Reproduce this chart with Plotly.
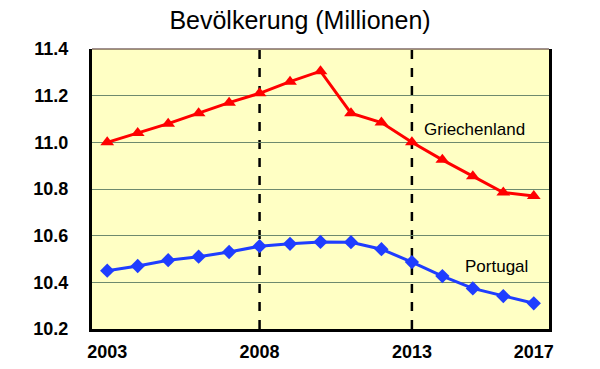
import plotly.graph_objects as go

years = list(range(2003, 2018))
griechenland = [11.00, 11.04, 11.08, 11.125, 11.17, 11.21, 11.26, 11.305, 11.125, 11.085, 11.00, 10.925, 10.855, 10.785, 10.77]
portugal = [10.45, 10.47, 10.495, 10.51, 10.53, 10.555, 10.565, 10.573, 10.572, 10.542, 10.487, 10.427, 10.374, 10.341, 10.31]
x_ticks = [2003, 2008, 2013, 2017]
y_ticks = [10.2, 10.4, 10.6, 10.8, 11.0, 11.2, 11.4]
vlines = [2008, 2013]

fig = go.Figure()
fig.add_trace(go.Scatter(x=years, y=griechenland, mode="lines+markers",
                         line=dict(color="#FF0000", width=3),
                         marker=dict(symbol="triangle-up", size=12, color="#FF0000"),
                         name="Griechenland", cliponaxis=False))
fig.add_trace(go.Scatter(x=years, y=portugal, mode="lines+markers",
                         line=dict(color="#1F3DFF", width=3),
                         marker=dict(symbol="diamond", size=11, color="#1F3DFF"),
                         name="Portugal", cliponaxis=False))

for v in vlines:
    fig.add_shape(type="line", x0=v, x1=v, y0=10.2, y1=11.4, xref="x", yref="y",
                  line=dict(color="black", width=2.5, dash="dash"), layer="below")

# thin top border
fig.add_shape(type="line", x0=0, x1=1, y0=1, y1=1, xref="paper", yref="paper",
              line=dict(color="#402020", width=1))

fig.add_annotation(x=2015.07, y=11.057, text="Griechenland", showarrow=False,
                   font=dict(size=17, color="black", family="Liberation Sans, Arial"))
fig.add_annotation(x=2015.79, y=10.466, text="Portugal", showarrow=False,
                   font=dict(size=17, color="black", family="Liberation Sans, Arial"))

fig.update_layout(
    width=600, height=369,
    margin=dict(l=92, r=51, t=49, b=40, autoexpand=False),
    paper_bgcolor="white",
    plot_bgcolor="#FFFFC4",
    showlegend=False,
    title=dict(text="Bevölkerung (Millionen)", x=0.5, xanchor="center", y=1 - 20 / 369, yanchor="middle",
               automargin=False,
               font=dict(size=25, color="black", family="Liberation Sans, Arial")),
    font=dict(family="Liberation Sans, Arial", color="black"),
    xaxis=dict(range=[2002.5, 2017.5], tickvals=x_ticks, ticktext=[f"<b>{t}</b>" for t in x_ticks],
               showgrid=False, zeroline=False, showline=True, linecolor="black", linewidth=3,
               mirror=False, ticks="", tickfont=dict(size=18), ticklabelstandoff=4, automargin=False),
    yaxis=dict(range=[10.2, 11.4], tickvals=y_ticks, ticktext=[f"<b>{t:.1f}</b>" for t in y_ticks],
               showgrid=True, gridcolor="#6E8A6E", gridwidth=1, zeroline=False,
               showline=True, linecolor="black", linewidth=3, mirror=True, ticks="",
               tickfont=dict(size=18), ticklabelstandoff=17, automargin=False),
)

fig.write_html("out.html", config={"displayModeBar": False},
               post_script="document.body.style.margin='0';")
